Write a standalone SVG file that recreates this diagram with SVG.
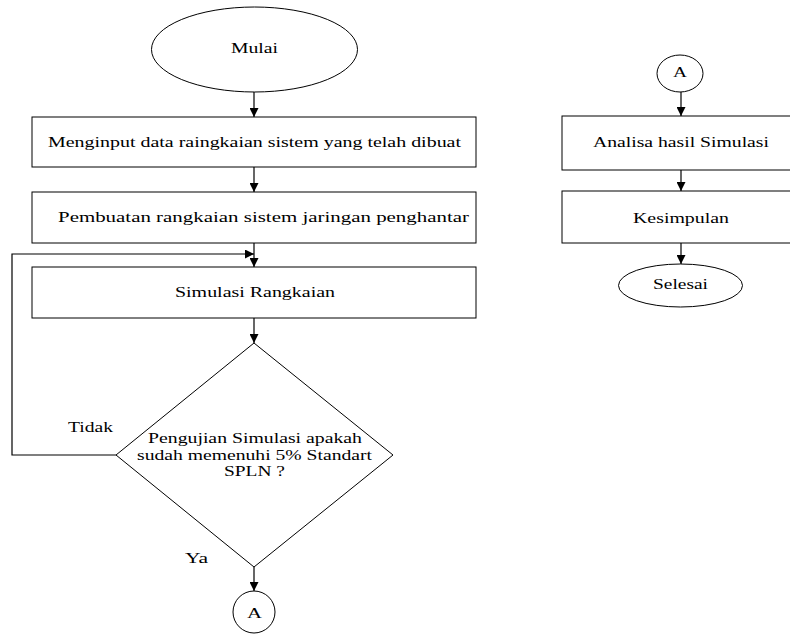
<svg xmlns="http://www.w3.org/2000/svg" width="790" height="635" viewBox="0 0 790 635">
<style>
.s{fill:#fff;stroke:#000;stroke-width:1}
.t{font-family:'Liberation Serif','Times New Roman','DejaVu Serif',serif;font-size:15px;fill:#000}
.c{fill:none;stroke:#000;stroke-width:1.2}
</style>
<defs>
<marker id="ah" viewBox="0 0 10 10" refX="10" refY="5" markerWidth="9" markerHeight="9" markerUnits="userSpaceOnUse" orient="auto">
<path d="M0,0 L10,5 L0,10 z" fill="#000"/>
</marker>
</defs>
<rect width="790" height="635" fill="#fff"/>
<g id="connectors">
<line class="c" x1="254" y1="92" x2="254" y2="117" marker-end="url(#ah)"/>
<line class="c" x1="254" y1="167" x2="254" y2="192" marker-end="url(#ah)"/>
<line class="c" x1="254" y1="243" x2="254" y2="267" marker-end="url(#ah)"/>
<line class="c" x1="254" y1="318" x2="254" y2="343" marker-end="url(#ah)"/>
<line class="c" x1="254" y1="567" x2="254" y2="591" marker-end="url(#ah)"/>
<path class="c" d="M116,455 H12 V254 H254" marker-end="url(#ah)"/>
<line class="c" x1="681" y1="92" x2="681" y2="116" marker-end="url(#ah)"/>
<line class="c" x1="681" y1="170" x2="681" y2="191" marker-end="url(#ah)"/>
<line class="c" x1="681" y1="243" x2="681" y2="264" marker-end="url(#ah)"/>
<text class="t" x="68" y="432" textLength="45" lengthAdjust="spacingAndGlyphs">Tidak</text>
<text class="t" x="185" y="563" textLength="23" lengthAdjust="spacingAndGlyphs">Ya</text>
</g>
<g id="mulai">
<ellipse class="s" cx="254.5" cy="49.5" rx="103" ry="42.5"/>
<text class="t" x="231" y="53" textLength="47" lengthAdjust="spacingAndGlyphs">Mulai</text>
</g>
<g id="input">
<rect class="s" x="32" y="117" width="444" height="50"/>
<text class="t" x="48" y="147" textLength="413" lengthAdjust="spacingAndGlyphs">Menginput data raingkaian sistem yang telah dibuat</text>
</g>
<g id="pembuatan">
<rect class="s" x="32" y="192" width="444" height="51"/>
<text class="t" x="58" y="222" textLength="411" lengthAdjust="spacingAndGlyphs">Pembuatan rangkaian sistem jaringan penghantar</text>
</g>
<g id="simulasi">
<rect class="s" x="32" y="267" width="444" height="51"/>
<text class="t" x="175" y="297" textLength="160" lengthAdjust="spacingAndGlyphs">Simulasi Rangkaian</text>
</g>
<g id="pengujian">
<polygon class="s" points="254,343 393,455 254,567 116,455"/>
<text class="t" x="148" y="443" textLength="214" lengthAdjust="spacingAndGlyphs">Pengujian Simulasi apakah</text>
<text class="t" x="137" y="460" textLength="235" lengthAdjust="spacingAndGlyphs">sudah memenuhi 5% Standart</text>
<text class="t" x="224" y="476" textLength="61" lengthAdjust="spacingAndGlyphs">SPLN ?</text>
</g>
<g id="a-bottom">
<circle class="s" cx="254" cy="612" r="21"/>
<text class="t" x="247" y="618" textLength="15" lengthAdjust="spacingAndGlyphs">A</text>
</g>
<g id="a-top">
<ellipse class="s" cx="680" cy="73.5" rx="23" ry="18.5"/>
<text class="t" x="673" y="77" textLength="14" lengthAdjust="spacingAndGlyphs">A</text>
</g>
<g id="analisa">
<rect class="s" x="562" y="116" width="240" height="54"/>
<text class="t" x="593" y="147" textLength="176" lengthAdjust="spacingAndGlyphs">Analisa hasil Simulasi</text>
</g>
<g id="kesimpulan">
<rect class="s" x="562" y="191" width="240" height="52"/>
<text class="t" x="633" y="223" textLength="96" lengthAdjust="spacingAndGlyphs">Kesimpulan</text>
</g>
<g id="selesai">
<ellipse class="s" cx="680.5" cy="285.5" rx="62" ry="21.5"/>
<text class="t" x="653" y="289" textLength="55" lengthAdjust="spacingAndGlyphs">Selesai</text>
</g>
</svg>
